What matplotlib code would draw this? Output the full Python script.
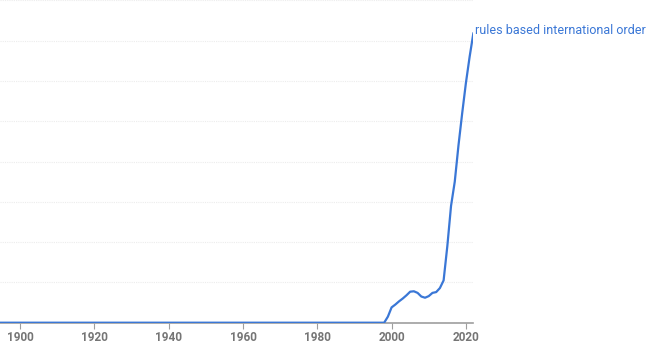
import numpy as np
import matplotlib.pyplot as plt

# yearly frequency (arbitrary units, 1 unit = 1 gridline)
years = list(range(1890, 2023))
early = [0.0] * (1999 - 1890)   # 1890..1998
recent = [0.15, 0.38, 0.45, 0.53, 0.60, 0.68, 0.77, 0.78, 0.74, 0.65,
          0.62, 0.66, 0.74, 0.76, 0.86, 1.05, 1.9, 2.9, 3.5, 4.4,
          5.2, 5.95, 6.6, 7.18]     # 1999..2022
values = early + recent
label = 'rules based international order'
xticks = [1900, 1920, 1940, 1960, 1980, 2000, 2020]

blue = '#3a77d6'

fig = plt.figure(figsize=(6.5, 3.48), dpi=100)
ax = fig.add_axes([0.0, 0.0727, 0.7282, 0.926])

ax.plot(years, values, color=blue, linewidth=1.6, solid_joinstyle='round', zorder=3)

ax.set_xlim(1894.6, 2022)
ax.set_ylim(0, 8)
ax.set_yticks(range(0, 9))
ax.set_yticklabels([])
ax.tick_params(axis='y', length=0)
ax.grid(True, axis='y', color='#ececec', linewidth=0.8, linestyle=(0, (1, 1)), zorder=0)

ax.set_xticks(xticks)
ax.set_xticklabels([str(t) for t in xticks], fontsize=8.5, color='#757575',
                   fontfamily='Roboto', fontweight='bold')
ax.tick_params(axis='x', length=4, width=0.8, color='#9e9e9e', pad=2)

for s in ['top', 'right', 'left']:
    ax.spines[s].set_visible(False)
ax.spines['bottom'].set_color('#9e9e9e')
ax.spines['bottom'].set_linewidth(1.2)

ax.annotate(label, xy=(years[-1], values[-1]), xytext=(1, 2), textcoords='offset points',
            fontsize=9.0, color=blue, fontfamily='Roboto', ha='left', va='center',
            annotation_clip=False)

fig.savefig('out.png', dpi=100, facecolor='white')
